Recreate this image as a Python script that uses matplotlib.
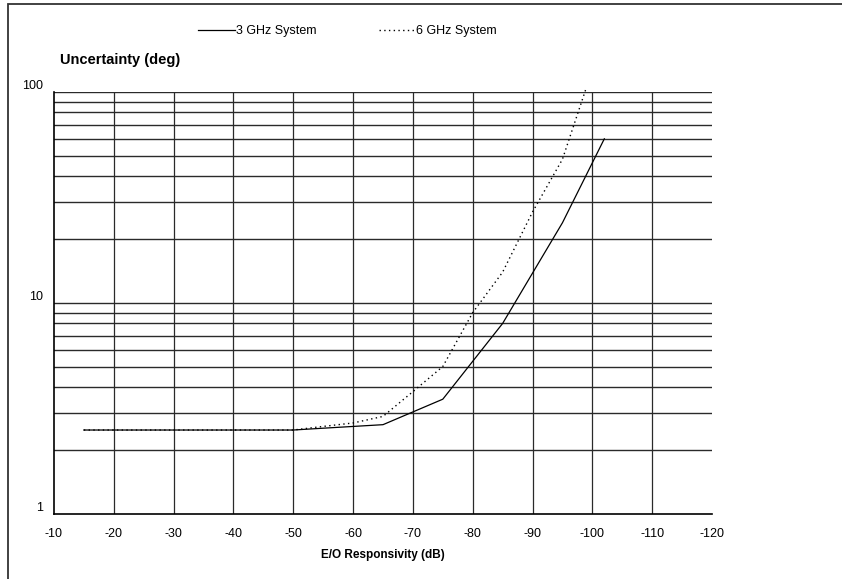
import matplotlib
matplotlib.use("Agg")
import matplotlib.pyplot as plt
from matplotlib.patches import Rectangle
from matplotlib.ticker import FixedLocator, NullFormatter
import numpy as np

plt.rcParams["font.family"] = ["Liberation Sans", "DejaVu Sans"]

# data
resp_3ghz = [-15, -25, -35, -45, -50, -55, -65, -75, -85, -95, -102]
unc_3ghz = [2.5, 2.5, 2.5, 2.5, 2.5, 2.55, 2.65, 3.5, 8.0, 24.0, 60.0]

resp_6ghz = [-15, -25, -35, -45, -50, -55, -60, -65, -70, -75, -80, -85, -90, -95, -99]
unc_6ghz = [2.5, 2.5, 2.5, 2.5, 2.5, 2.6, 2.7, 2.9, 3.8, 5.0, 9.0, 14.0, 27.0, 48.0, 105.0]

x_ticks = [-10, -20, -30, -40, -50, -60, -70, -80, -90, -100, -110, -120]
y_ticks = [1, 10, 100]
y_grid = [2, 3, 4, 5, 6, 7, 8, 9, 10, 20, 30, 40, 50, 60, 70, 80, 90, 100]

fig = plt.figure(figsize=(8.42, 5.79), dpi=100)
ax = fig.add_axes([0.0641, 0.1123, 0.7815, 0.7288])

ax.plot(resp_3ghz, unc_3ghz, color="black", linewidth=0.9, label="3 GHz System", clip_on=False)
ax.plot(resp_6ghz, unc_6ghz, color="black", linewidth=1.0, linestyle=(0, (1, 2.4)),
        label="6 GHz System", clip_on=False)

ax.set_yscale("log")
ax.set_xlim(-10, -120)
ax.set_ylim(1, 100)

ax.set_xticks(x_ticks)
ax.set_xticklabels([str(v) for v in x_ticks])
ax.yaxis.set_major_locator(FixedLocator(y_ticks))
ax.set_yticklabels([str(v) for v in y_ticks], va="bottom")
ax.yaxis.set_minor_locator(FixedLocator(y_grid))
ax.yaxis.set_minor_formatter(NullFormatter())
ax.tick_params(axis="both", which="both", length=0, labelsize=9)
ax.tick_params(axis="x", pad=10)
ax.tick_params(axis="y", pad=8)

for v in y_grid:
    ax.axhline(v, color="#2a2a2a", linewidth=1.0, zorder=0)
for v in x_ticks[1:-1]:
    ax.axvline(v, color="#2a2a2a", linewidth=0.9, zorder=0)

ax.spines["top"].set_visible(False)
ax.spines["right"].set_visible(False)
ax.spines["left"].set_linewidth(1.2)
ax.spines["bottom"].set_linewidth(1.2)

ax.set_xlabel("E/O Responsivity (dB)", fontsize=8.5, fontweight="bold", labelpad=6.5)
fig.text(0.071, 0.896, "Uncertainty (deg)", fontsize=10.5, fontweight="bold", ha="left", va="center")

fig.legend(loc="center", bbox_to_anchor=(0.413, 0.946), ncol=2, frameon=False, fontsize=9,
           handlelength=2.9, handletextpad=0.1, columnspacing=5.0)

fig.add_artist(Rectangle((8 / 842, -0.1), 1.2, 1.1 - 4 / 579, transform=fig.transFigure,
                         fill=False, edgecolor="#333333", linewidth=1.3, clip_on=False))

fig.savefig("out.png", dpi=100)
plt.close(fig)
